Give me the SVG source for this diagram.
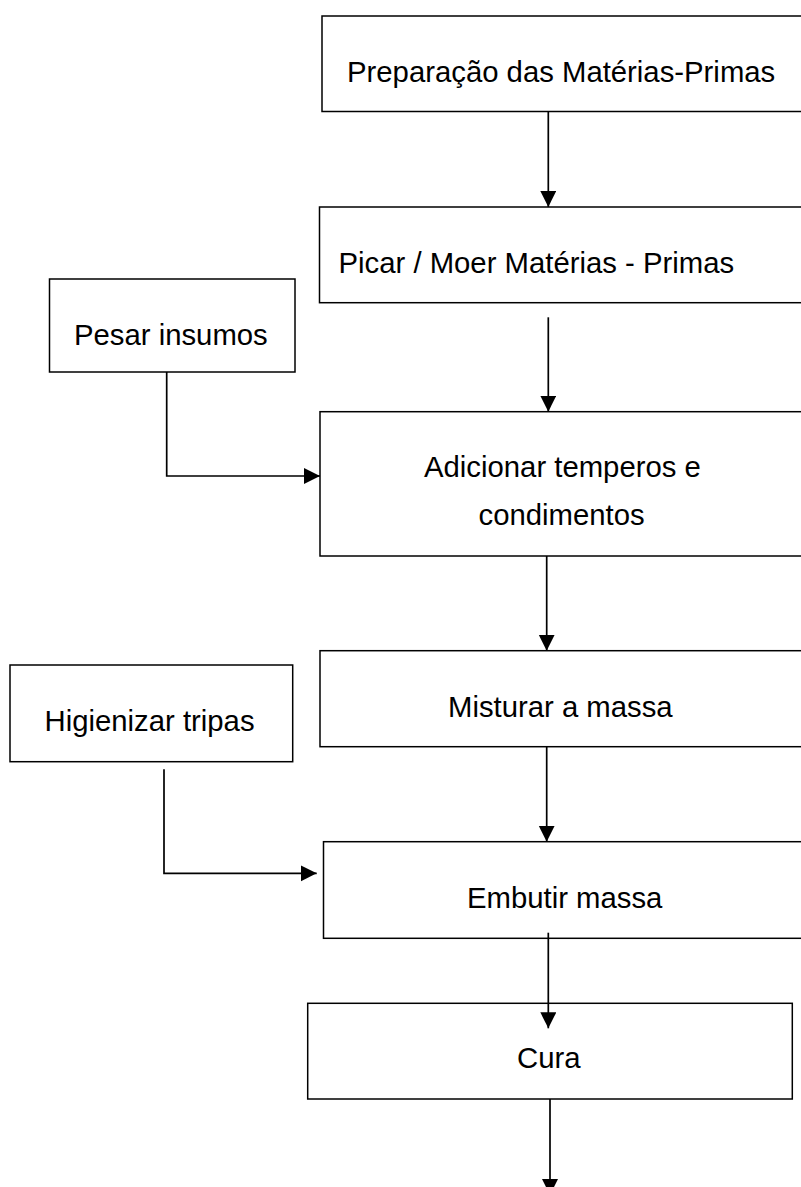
<svg xmlns="http://www.w3.org/2000/svg" width="801" height="1187" viewBox="0 0 801 1187">
<style>
.box{fill:#fff;stroke:#000;stroke-width:1.5}
.lbl{font-family:"Liberation Sans",Arial,sans-serif;font-size:29.3px;fill:#000}
.con{fill:none;stroke:#000;stroke-width:1.7}
</style>
<defs>
<marker id="ah" markerUnits="userSpaceOnUse" markerWidth="17" markerHeight="17" refX="16" refY="8" orient="auto">
<path d="M0,0 L16,8 L0,16 Z" fill="#000"/>
</marker>
</defs>
<rect width="801" height="1187" fill="#fff"/>
<g id="n1"><rect class="box" x="322" y="16" width="500" height="95.5"/><text class="lbl" x="347" y="81.7">Preparação das Matérias-Primas</text></g>
<g id="n2"><rect class="box" x="319.5" y="207" width="500" height="95.7"/><text class="lbl" x="338.5" y="272.7">Picar / Moer Matérias - Primas</text></g>
<g id="n3"><rect class="box" x="49.5" y="279" width="245.5" height="93"/><text class="lbl" x="74" y="345">Pesar insumos</text></g>
<g id="n4"><rect class="box" x="320" y="411.7" width="500" height="144.3"/><text class="lbl" x="424" y="477.3">Adicionar temperos e</text><text class="lbl" x="478.5" y="525">condimentos</text></g>
<g id="n5"><rect class="box" x="10" y="665" width="282.7" height="96.7"/><text class="lbl" x="44.5" y="730.7">Higienizar tripas</text></g>
<g id="n6"><rect class="box" x="320" y="650.7" width="500" height="96"/><text class="lbl" x="448" y="716.7">Misturar a massa</text></g>
<g id="n7"><rect class="box" x="323.5" y="841.7" width="500" height="96.6"/><text class="lbl" x="467" y="908.3">Embutir massa</text></g>
<g id="n8"><rect class="box" x="307.7" y="1003.3" width="484.6" height="95.7"/><text class="lbl" x="517" y="1068.3">Cura</text></g>
<g id="connectors">
<path class="con" d="M548.3,111.5 V207" marker-end="url(#ah)"/>
<path class="con" d="M548.3,317.3 V411.7" marker-end="url(#ah)"/>
<path class="con" d="M166.7,372 V476 H320" marker-end="url(#ah)"/>
<path class="con" d="M546.7,556 V650.7" marker-end="url(#ah)"/>
<path class="con" d="M164,769.3 V873.3 H316.7" marker-end="url(#ah)"/>
<path class="con" d="M546.7,746.7 V841.7" marker-end="url(#ah)"/>
<path class="con" d="M548.3,932.7 V1028.3" marker-end="url(#ah)"/>
<path class="con" d="M550,1099 V1195" marker-end="url(#ah)"/>
</g>
</svg>
